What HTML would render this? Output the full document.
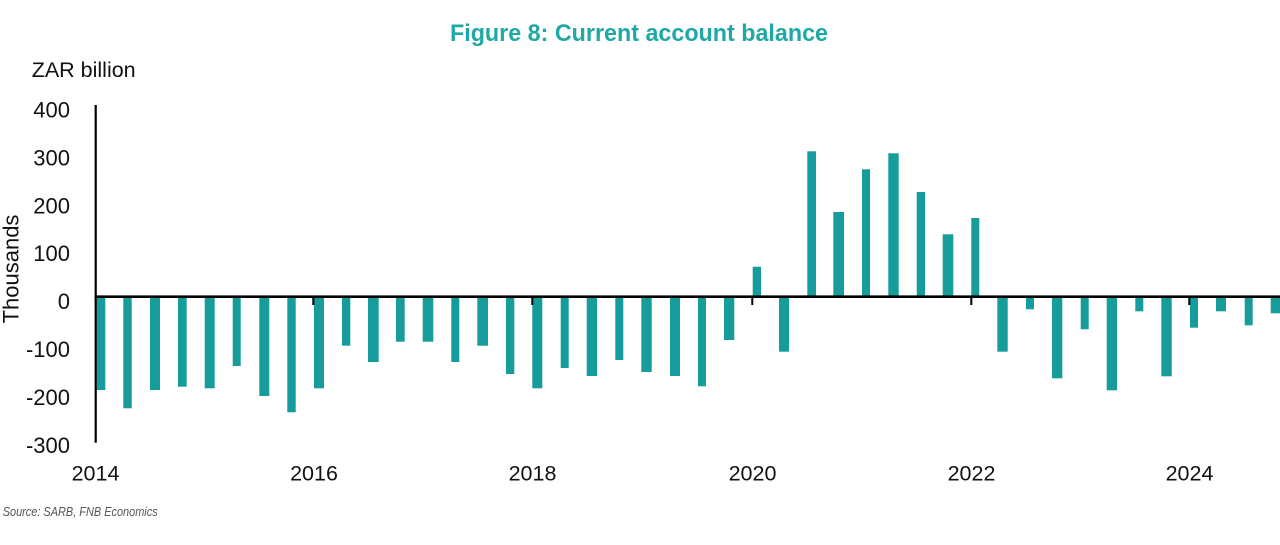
<!DOCTYPE html>
<html><head><meta charset="utf-8"><style>
html,body{margin:0;padding:0;background:#fff;}
svg{display:block;}
</style></head><body>
<svg width="1280" height="545" viewBox="0 0 1280 545" xmlns="http://www.w3.org/2000/svg">
<rect width="1280" height="545" fill="#fff"/>
<text x="450" y="41" font-family="Liberation Sans, sans-serif" font-weight="bold" font-size="24" fill="#1fa8a5" textLength="378" lengthAdjust="spacingAndGlyphs">Figure 8: Current account balance</text>
<text x="31.7" y="76.8" font-family="Liberation Sans, sans-serif" font-size="21.5" fill="#111">ZAR billion</text>
<g font-family="Liberation Sans, sans-serif" font-size="22" fill="#111" text-anchor="end">
<text x="70" y="117.5">400</text>
<text x="70" y="165.4">300</text>
<text x="70" y="213.3">200</text>
<text x="70" y="261.2">100</text>
<text x="70" y="309.2">0</text>
<text x="70" y="357.1">-100</text>
<text x="70" y="405">-200</text>
<text x="70" y="452.9">-300</text>
</g>
<text transform="translate(18.5,269) rotate(-90)" font-family="Liberation Sans, sans-serif" font-size="22" fill="#111" text-anchor="middle">Thousands</text>
<g font-family="Liberation Sans, sans-serif" font-size="21.5" fill="#111" text-anchor="middle">
<text x="95.5" y="480.7">2014</text>
<text x="314" y="480.7">2016</text>
<text x="532.5" y="480.7">2018</text>
<text x="752.5" y="480.7">2020</text>
<text x="971.5" y="480.7">2022</text>
<text x="1189.5" y="480.7">2024</text>
</g>
<text x="2.7" y="516" font-family="Liberation Sans, sans-serif" font-style="italic" font-size="12.5" fill="#555" textLength="155" lengthAdjust="spacingAndGlyphs">Source: SARB, FNB Economics</text>
<g fill="#169c9a">
<rect x="96.7" y="296.7" width="8.6" height="93.3"/>
<rect x="123.3" y="296.7" width="8.4" height="111.6"/>
<rect x="150" y="296.7" width="10" height="93.3"/>
<rect x="178" y="296.7" width="8.7" height="90"/>
<rect x="204.7" y="296.7" width="10" height="91.6"/>
<rect x="232.7" y="296.7" width="8" height="69.3"/>
<rect x="259.3" y="296.7" width="10" height="99.3"/>
<rect x="287.3" y="296.7" width="8.4" height="115.6"/>
<rect x="314" y="296.7" width="10" height="91.6"/>
<rect x="342" y="296.7" width="8.3" height="49"/>
<rect x="368" y="296.7" width="10.7" height="65.3"/>
<rect x="396" y="296.7" width="8.7" height="45"/>
<rect x="422.7" y="296.7" width="10.6" height="45"/>
<rect x="451.3" y="296.7" width="8" height="65.3"/>
<rect x="477.3" y="296.7" width="10.7" height="49"/>
<rect x="506" y="296.7" width="8.3" height="77.3"/>
<rect x="532.3" y="296.7" width="10" height="91.6"/>
<rect x="560.7" y="296.7" width="8" height="71.3"/>
<rect x="586.7" y="296.7" width="10.3" height="79.3"/>
<rect x="615.3" y="296.7" width="8" height="63.3"/>
<rect x="641.3" y="296.7" width="10.4" height="75.3"/>
<rect x="670" y="296.7" width="10" height="79.3"/>
<rect x="698" y="296.7" width="8" height="89.6"/>
<rect x="724" y="296.7" width="10.3" height="43.3"/>
<rect x="752.7" y="266.7" width="8.3" height="30"/>
<rect x="779" y="296.7" width="10" height="55"/>
<rect x="807.3" y="151.3" width="8.7" height="145.4"/>
<rect x="833.3" y="212" width="10.7" height="84.7"/>
<rect x="862" y="169.3" width="8" height="127.4"/>
<rect x="888.3" y="153.3" width="10.4" height="143.4"/>
<rect x="916.7" y="192" width="8.3" height="104.7"/>
<rect x="942.7" y="234.3" width="10.6" height="62.4"/>
<rect x="971.3" y="218" width="8" height="78.7"/>
<rect x="997.3" y="296.7" width="10.4" height="55"/>
<rect x="1026" y="296.7" width="8" height="12.6"/>
<rect x="1052" y="296.7" width="10.3" height="81.6"/>
<rect x="1080.7" y="296.7" width="8" height="32.6"/>
<rect x="1106.7" y="296.7" width="10.3" height="93.6"/>
<rect x="1135.3" y="296.7" width="8" height="14.6"/>
<rect x="1161.3" y="296.7" width="10.4" height="79.6"/>
<rect x="1190" y="296.7" width="8" height="31"/>
<rect x="1216" y="296.7" width="10" height="14.6"/>
<rect x="1244.7" y="296.7" width="8" height="28.6"/>
<rect x="1270.7" y="296.7" width="9.3" height="16.6"/>
</g>
<g stroke="#000" fill="none">
<line x1="95.7" y1="105" x2="95.7" y2="442.7" stroke-width="2.2"/>
<line x1="94.6" y1="296.7" x2="1280" y2="296.7" stroke-width="2.6"/>
<line x1="313.3" y1="296.7" x2="313.3" y2="305" stroke-width="2"/>
<line x1="532.3" y1="296.7" x2="532.3" y2="305" stroke-width="2"/>
<line x1="752.3" y1="296.7" x2="752.3" y2="305" stroke-width="2"/>
<line x1="971.3" y1="296.7" x2="971.3" y2="305" stroke-width="2"/>
<line x1="1189.3" y1="296.7" x2="1189.3" y2="305" stroke-width="2"/>
</g>
</svg>
</body></html>
